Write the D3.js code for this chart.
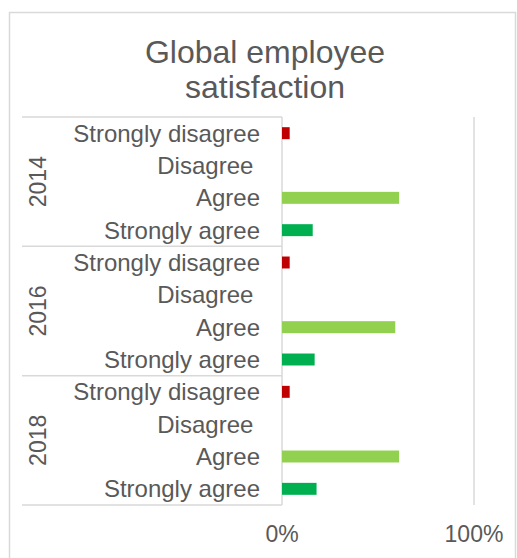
<!DOCTYPE html>
<html>
<head>
<meta charset="utf-8">
<script src="https://cdn.jsdelivr.net/npm/d3@7"></script>
<style>
	body { margin: 0; background: #fff; }
	text { font-family: "Liberation Sans", Arial, sans-serif; fill: #595959; }
</style>
</head>
<body>
<svg id="chart" width="517" height="558"></svg>
<script>
// data
var years = ["2014", "2016", "2018"];
var answers = ["Strongly disagree", "Disagree", "Agree", "Strongly agree"];
var values2014 = [0.04, 0, 0.61, 0.16];
var values2016 = [0.04, 0, 0.59, 0.17];
var values2018 = [0.04, 0, 0.61, 0.18];
var answerColors = ["#c00000", "#ff7c80", "#92d050", "#00b050"];
var ticks = [0, 1];
var tickLabels = ["0%", "100%"];

var allValues = [values2014, values2016, values2018];

var svg = d3.select("#chart");

var plotLeft = 282, plotRight = 474,
	plotTop = 117, plotBottom = 505,
	boxLeft = 22;

// chart frame
svg.append("rect")
	.attr("x", 9.5).attr("y", 12.5)
	.attr("width", 506).attr("height", 600)
	.attr("fill", "none")
	.attr("stroke", "#d9d9d9")
	.attr("stroke-width", 1.5);

// title
svg.append("text")
	.attr("text-anchor", "middle")
	.style("font-size", "32px")
	.selectAll("tspan")
	.data(["Global employee", "satisfaction"])
	.enter().append("tspan")
		.attr("x", 265)
		.attr("y", function(d, i) { return 63 + i * 35; })
		.text(function(d) { return d; });

var x = d3.scaleLinear().domain([0, 1]).range([plotLeft, plotRight]);

var yGroup = d3.scaleBand().domain(years).range([plotTop, plotBottom]);

var yInner = d3.scaleBand().domain(answers)
	.range([0, yGroup.bandwidth()])
	.paddingInner(0.63)
	.paddingOuter(0.315);

// gridline at 100%
svg.append("g")
	.selectAll("line")
	.data(ticks.slice(1))
	.enter().append("line")
		.attr("x1", function(d) { return x(d); })
		.attr("x2", function(d) { return x(d); })
		.attr("y1", plotTop).attr("y2", plotBottom)
		.attr("stroke", "#d9d9d9")
		.attr("stroke-width", 1.5);

// category box lines
var boundaries = years.map(function(y) { return yGroup(y); }).concat([plotBottom]);
svg.append("g")
	.selectAll("line")
	.data(boundaries)
	.enter().append("line")
		.attr("x1", boxLeft).attr("x2", plotLeft)
		.attr("y1", function(d) { return d; })
		.attr("y2", function(d) { return d; })
		.attr("stroke", "#d9d9d9")
		.attr("stroke-width", 1.5);

svg.append("line")
	.attr("x1", plotLeft).attr("x2", plotLeft)
	.attr("y1", plotTop).attr("y2", plotBottom)
	.attr("stroke", "#d9d9d9")
	.attr("stroke-width", 1.5);

// groups
var groups = svg.append("g")
	.selectAll("g")
	.data(years)
	.enter().append("g")
		.attr("transform", function(d) { return "translate(0," + yGroup(d) + ")"; });

// bars
groups.selectAll("rect")
	.data(function(d, i) {
		return answers.map(function(a, j) { return { answer: a, value: allValues[i][j], color: answerColors[j] }; });
	})
	.enter().append("rect")
		.attr("x", x(0))
		.attr("y", function(d) { return yInner(d.answer); })
		.attr("width", function(d) { return x(d.value) - x(0); })
		.attr("height", yInner.bandwidth())
		.attr("fill", function(d) { return d.color; });

// answer labels
groups.selectAll("text.answer")
	.data(answers)
	.enter().append("text")
		.attr("class", "answer")
		.attr("x", 260)
		.attr("y", function(d) { return yInner(d) + yInner.bandwidth() / 2; })
		.attr("dy", "0.35em")
		.attr("text-anchor", "end")
		.style("font-size", "24px")
		.style("white-space", "pre")
		.text(function(d) { return d == "Disagree" ? d + " " : d; });

// year labels
groups.append("text")
	.attr("transform", "translate(38," + (yGroup.bandwidth() / 2) + ") rotate(-90)")
	.attr("dy", "0.35em")
	.attr("text-anchor", "middle")
	.style("font-size", "23px")
	.text(function(d) { return d; });

// x tick labels
svg.append("g")
	.selectAll("text")
	.data(ticks)
	.enter().append("text")
		.attr("x", function(d) { return x(d); })
		.attr("y", 542)
		.attr("text-anchor", "middle")
		.style("font-size", "23px")
		.text(function(d, i) { return tickLabels[i]; });
</script>
</body>
</html>
